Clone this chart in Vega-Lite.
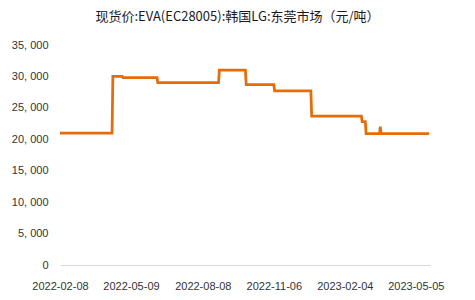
{
  "$schema": "https://vega.github.io/schema/vega-lite/v6.json",
  "autosize": {"type": "none"},
  "padding": {"left": 60, "top": 45, "right": 45, "bottom": 35},
  "width": 370,
  "height": 220,
  "background": "white",
  "title": {
    "text": "现货价:EVA(EC28005):韩国LG:东莞市场（元/吨）",
    "font": "Noto Sans CJK SC",
    "fontSize": 13,
    "fontWeight": "normal",
    "color": "#1a1a1a",
    "anchor": "middle",
    "dx": -7.5,
    "offset": 15
  },
  "data": {
    "values": [
      {"date": "2022-02-08", "price": 21000},
      {"date": "2022-04-15", "price": 21000},
      {"date": "2022-04-16", "price": 30000},
      {"date": "2022-04-28", "price": 30000},
      {"date": "2022-04-29", "price": 29800},
      {"date": "2022-06-11", "price": 29800},
      {"date": "2022-06-12", "price": 29000},
      {"date": "2022-08-28", "price": 29000},
      {"date": "2022-08-29", "price": 31000},
      {"date": "2022-10-01", "price": 31000},
      {"date": "2022-10-02", "price": 28700},
      {"date": "2022-11-06", "price": 28700},
      {"date": "2022-11-07", "price": 27700},
      {"date": "2022-12-23", "price": 27700},
      {"date": "2022-12-24", "price": 23700},
      {"date": "2023-02-25", "price": 23700},
      {"date": "2023-02-26", "price": 22800},
      {"date": "2023-03-02", "price": 22800},
      {"date": "2023-03-03", "price": 20900},
      {"date": "2023-03-20", "price": 20900},
      {"date": "2023-03-21", "price": 22000},
      {"date": "2023-03-22", "price": 20900},
      {"date": "2023-05-22", "price": 20900}
    ]
  },
  "mark": {"type": "line", "color": "#E46C0A", "strokeWidth": 2.75, "interpolate": "linear"},
  "encoding": {
    "x": {
      "field": "date",
      "type": "temporal",
      "scale": {
        "type": "utc",
        "domain": [
          {"year": 2022, "month": 2, "date": 8, "utc": true},
          {"year": 2023, "month": 5, "date": 23, "utc": true}
        ]
      },
      "axis": {
        "title": null,
        "values": [
          {"year": 2022, "month": 2, "date": 8, "utc": true},
          {"year": 2022, "month": 5, "date": 9, "utc": true},
          {"year": 2022, "month": 8, "date": 8, "utc": true},
          {"year": 2022, "month": 11, "date": 6, "utc": true},
          {"year": 2023, "month": 2, "date": 4, "utc": true},
          {"year": 2023, "month": 5, "date": 5, "utc": true}
        ],
        "labelExpr": "utcFormat(datum.value, '%Y-%m-%d')",
        "grid": false,
        "ticks": false,
        "domain": true,
        "domainColor": "#d9d9d9",
        "domainWidth": 1,
        "labelFont": "Liberation Sans",
        "labelFontSize": 11,
        "labelColor": "#333333",
        "labelPadding": 15,
        "labelFlush": false,
        "labelOverlap": false
      }
    },
    "y": {
      "field": "price",
      "type": "quantitative",
      "scale": {"domain": [0, 35000], "nice": false, "zero": true},
      "axis": {
        "title": null,
        "values": [0, 5000, 10000, 15000, 20000, 25000, 30000, 35000],
        "labelExpr": "replace(format(datum.value, ','), ',', ', ')",
        "grid": false,
        "ticks": false,
        "domain": false,
        "labelFont": "Liberation Sans",
        "labelFontSize": 11,
        "labelColor": "#333333",
        "labelPadding": 12
      }
    }
  },
  "config": {
    "view": {"stroke": null}
  }
}
